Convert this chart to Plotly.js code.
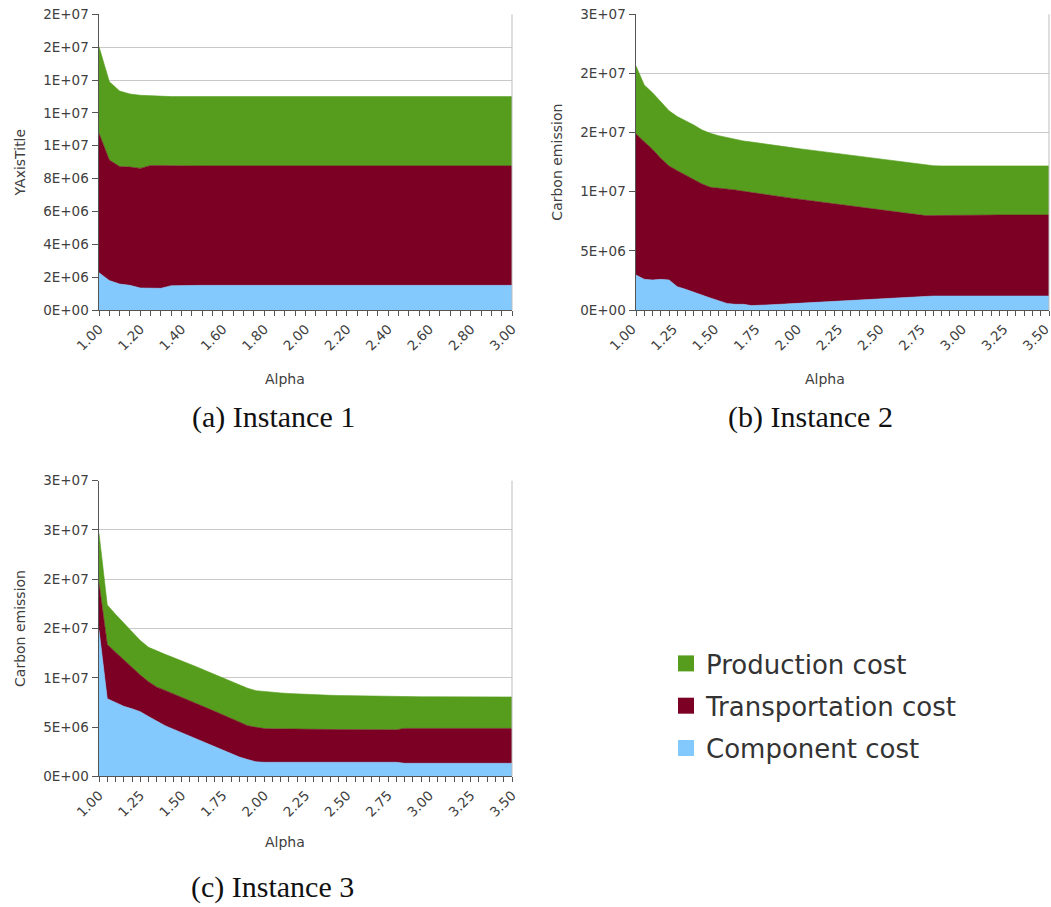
<!DOCTYPE html>
<html>
<head>
<meta charset="utf-8">
<script src="https://cdn.plot.ly/plotly-3.0.1.min.js"></script>
<style>
  html, body { margin: 0; padding: 0; background: #ffffff; }
  #chart { width: 1051px; height: 907px; }
</style>
</head>
<body>
<div id="chart"></div>
<script>
// ---------------- DATA ----------------
const seriesNames = ["Component cost", "Transportation cost", "Production cost"];
const legendOrder = ["Production cost", "Transportation cost", "Component cost"];
const seriesColors = ["#83c9fe", "#7b0024", "#569d1e"];

// Instance 1 (alpha 1.00 .. 3.00, step 0.05)
const alpha1 = [1.00,1.05,1.10,1.15,1.20,1.25,1.30,1.35,1.40,1.45,1.50,1.55,1.60,1.65,1.70,1.75,1.80,1.85,1.90,1.95,
  2.00,2.05,2.10,2.15,2.20,2.25,2.30,2.35,2.40,2.45,2.50,2.55,2.60,2.65,2.70,2.75,2.80,2.85,2.90,2.95,3.00];
const component1 = [2.27e6,1.79e6,1.58e6,1.50e6,1.34e6,1.34e6,1.32e6,1.48e6,1.50e6,1.50e6,1.50e6,1.50e6,1.50e6,1.50e6,
  1.50e6,1.50e6,1.50e6,1.50e6,1.50e6,1.50e6,1.50e6,1.50e6,1.50e6,1.50e6,1.50e6,1.50e6,1.50e6,1.50e6,1.50e6,1.50e6,
  1.50e6,1.50e6,1.50e6,1.50e6,1.50e6,1.50e6,1.50e6,1.50e6,1.50e6,1.50e6,1.50e6];
const transport1 = [8.48e6,7.34e6,7.15e6,7.20e6,7.28e6,7.45e6,7.47e6,7.29e6,7.27e6,7.27e6,7.27e6,7.27e6,7.27e6,7.27e6,
  7.27e6,7.27e6,7.27e6,7.27e6,7.27e6,7.27e6,7.27e6,7.27e6,7.27e6,7.27e6,7.27e6,7.27e6,7.27e6,7.27e6,7.27e6,7.27e6,
  7.27e6,7.27e6,7.27e6,7.27e6,7.27e6,7.27e6,7.27e6,7.27e6,7.27e6,7.27e6,7.27e6];
const production1 = [5.28e6,4.77e6,4.60e6,4.45e6,4.45e6,4.24e6,4.22e6,4.22e6,4.22e6,4.22e6,4.22e6,4.22e6,4.22e6,4.22e6,
  4.22e6,4.22e6,4.22e6,4.22e6,4.22e6,4.22e6,4.22e6,4.22e6,4.22e6,4.22e6,4.22e6,4.22e6,4.22e6,4.22e6,4.22e6,4.22e6,
  4.22e6,4.22e6,4.22e6,4.22e6,4.22e6,4.22e6,4.22e6,4.22e6,4.22e6,4.22e6,4.22e6];

// Instance 2 (alpha 1.00 .. 3.50, step 0.05)
const alpha2 = [1.00,1.05,1.10,1.15,1.20,1.25,1.30,1.35,1.40,1.45,1.50,1.55,1.60,1.65,1.70,1.75,1.80,1.85,1.90,1.95,
  2.00,2.05,2.10,2.15,2.20,2.25,2.30,2.35,2.40,2.45,2.50,2.55,2.60,2.65,2.70,2.75,2.80,2.85,2.90,2.95,
  3.00,3.05,3.10,3.15,3.20,3.25,3.30,3.35,3.40,3.45,3.50];
const component2 = [2.96e6,2.59e6,2.54e6,2.59e6,2.54e6,1.97e6,1.75e6,1.49e6,1.27e6,1.01e6,0.79e6,0.56e6,0.48e6,0.48e6,
  0.37e6,0.39e6,0.42e6,0.46e6,0.50e6,0.54e6,0.58e6,0.62e6,0.66e6,0.70e6,0.74e6,0.78e6,0.82e6,0.86e6,0.90e6,0.94e6,
  0.98e6,1.02e6,1.06e6,1.10e6,1.14e6,1.18e6,1.18e6,1.18e6,1.18e6,1.18e6,1.18e6,1.18e6,1.18e6,1.18e6,1.18e6,1.18e6,
  1.18e6,1.18e6,1.18e6,1.18e6,1.18e6];
const transport2 = [11.92e6,11.64e6,11.04e6,10.23e6,9.63e6,9.81e6,9.66e6,9.50e6,9.38e6,9.36e6,9.52e6,9.67e6,9.67e6,
  9.55e6,9.55e6,9.42e6,9.30e6,9.15e6,9.02e6,8.89e6,8.76e6,8.63e6,8.50e6,8.37e6,8.24e6,8.11e6,7.98e6,7.85e6,7.71e6,
  7.58e6,7.45e6,7.32e6,7.19e6,7.06e6,6.93e6,6.80e6,6.80e6,6.81e6,6.85e6,6.85e6,6.85e6,6.85e6,6.85e6,6.85e6,6.85e6,
  6.85e6,6.85e6,6.85e6,6.85e6,6.85e6,6.85e6];
const production2 = [5.75e6,4.79e6,4.79e6,4.79e6,4.68e6,4.57e6,4.60e6,4.65e6,4.57e6,4.57e6,4.43e6,4.34e6,4.28e6,4.26e6,
  4.28e6,4.28e6,4.26e6,4.28e6,4.28e6,4.28e6,4.28e6,4.28e6,4.28e6,4.28e6,4.28e6,4.28e6,4.28e6,4.28e6,4.28e6,4.28e6,
  4.28e6,4.28e6,4.28e6,4.28e6,4.28e6,4.28e6,4.22e6,4.19e6,4.15e6,4.15e6,4.15e6,4.15e6,4.15e6,4.15e6,4.15e6,4.15e6,
  4.15e6,4.15e6,4.15e6,4.15e6,4.15e6];

// Instance 3 (alpha 1.00 .. 3.50, step 0.05)
const alpha3 = [1.00,1.05,1.10,1.15,1.20,1.25,1.30,1.35,1.40,1.45,1.50,1.55,1.60,1.65,1.70,1.75,1.80,1.85,1.90,1.95,
  2.00,2.05,2.10,2.15,2.20,2.25,2.30,2.35,2.40,2.45,2.50,2.55,2.60,2.65,2.70,2.75,2.80,2.85,2.90,2.95,
  3.00,3.05,3.10,3.15,3.20,3.25,3.30,3.35,3.40,3.45,3.50];
const component3 = [14.85e6,7.88e6,7.50e6,7.10e6,6.85e6,6.56e6,6.06e6,5.60e6,5.14e6,4.78e6,4.43e6,4.07e6,3.72e6,3.35e6,
  2.99e6,2.64e6,2.30e6,1.95e6,1.70e6,1.47e6,1.42e6,1.42e6,1.42e6,1.42e6,1.42e6,1.42e6,1.42e6,1.42e6,1.42e6,1.42e6,
  1.42e6,1.42e6,1.42e6,1.42e6,1.42e6,1.42e6,1.42e6,1.32e6,1.32e6,1.32e6,1.32e6,1.32e6,1.32e6,1.32e6,1.32e6,1.32e6,
  1.32e6,1.32e6,1.32e6,1.32e6,1.32e6];
const transport3 = [4.74e6,5.50e6,5.10e6,4.70e6,4.20e6,3.72e6,3.54e6,3.45e6,3.58e6,3.57e6,3.56e6,3.58e6,3.58e6,3.60e6,
  3.61e6,3.61e6,3.60e6,3.60e6,3.44e6,3.50e6,3.42e6,3.40e6,3.38e6,3.37e6,3.36e6,3.35e6,3.34e6,3.33e6,3.33e6,3.32e6,
  3.32e6,3.31e6,3.31e6,3.30e6,3.30e6,3.30e6,3.30e6,3.54e6,3.54e6,3.54e6,3.54e6,3.54e6,3.54e6,3.54e6,3.54e6,3.54e6,
  3.54e6,3.54e6,3.54e6,3.54e6,3.54e6];
const production3 = [5.07e6,4.01e6,3.84e6,3.73e6,3.53e6,3.49e6,3.49e6,3.65e6,3.66e6,3.70e6,3.75e6,3.75e6,3.75e6,3.74e6,
  3.75e6,3.75e6,3.76e6,3.75e6,3.79e6,3.72e6,3.75e6,3.70e6,3.66e6,3.61e6,3.57e6,3.55e6,3.52e6,3.50e6,3.47e6,3.46e6,
  3.44e6,3.43e6,3.42e6,3.41e6,3.39e6,3.38e6,3.36e6,3.22e6,3.22e6,3.21e6,3.21e6,3.21e6,3.20e6,3.20e6,3.20e6,3.20e6,
  3.19e6,3.19e6,3.19e6,3.19e6,3.19e6];

// Tick values and labels
const yTickVals1 = [0,2e6,4e6,6e6,8e6,1e7,1.2e7,1.4e7,1.6e7,1.8e7];
const yTickText1 = ["0E+00","2E+06","4E+06","6E+06","8E+06","1E+07","1E+07","1E+07","2E+07","2E+07"];
const yTickVals2 = [0,5e6,1e7,1.5e7,2e7,2.5e7];
const yTickText2 = ["0E+00","5E+06","1E+07","2E+07","2E+07","3E+07"];
const yTickVals3 = [0,5e6,1e7,1.5e7,2e7,2.5e7,3e7];
const yTickText3 = ["0E+00","5E+06","1E+07","2E+07","2E+07","3E+07","3E+07"];

const yTitles = ["YAxisTitle", "Carbon emission", "Carbon emission"];
const xTitle = "Alpha";
const captions = ["(a) Instance 1", "(b) Instance 2", "(c) Instance 3"];

// ---------------- BUILD ----------------
const W = 1051, H = 907;
const px = v => v / W;
const py = v => 1 - v / H;

const SANS = "DejaVu Sans, sans-serif";
const TXT = "#404040";

const panels = [
  {x: alpha1, ys: [component1, transport1, production1], xa: "x", ya: "y"},
  {x: alpha2, ys: [component2, transport2, production2], xa: "x2", ya: "y2"},
  {x: alpha3, ys: [component3, transport3, production3], xa: "x3", ya: "y3"}
];

const traces = [];
panels.forEach((p, pi) => {
  p.ys.forEach((vals, si) => {
    traces.push({
      type: "scatter", x: p.x, y: vals, xaxis: p.xa, yaxis: p.ya,
      stackgroup: "g" + pi, mode: "lines",
      line: {width: 0.6, color: seriesColors[si]},
      fillcolor: seriesColors[si],
      name: seriesNames[si], showlegend: false, hoverinfo: "x+y+name"
    });
  });
});
// legend entries
legendOrder.forEach(name => {
  const si = seriesNames.indexOf(name);
  traces.push({
    type: "scatter", x: [null], y: [null], xaxis: "x", yaxis: "y",
    mode: "markers", marker: {symbol: "square", size: 16, color: seriesColors[si]},
    name: name, showlegend: true, legendgroup: name
  });
});

function xAxis(domain, range, dtick, anchor, shift) {
  return {
    domain: domain, range: range, anchor: anchor,
    tick0: 1, dtick: dtick, tickformat: ".2f", tickangle: -45,
    ticks: "outside", ticklen: 5, tickwidth: 1, tickcolor: "#555",
    minor: {dtick: 0.05, tick0: 1, ticks: "outside", ticklen: 5, tickwidth: 1, tickcolor: "#555", showgrid: false},
    showline: true, linecolor: "#555", linewidth: 1,
    showgrid: false, zeroline: false, ticklabeloverflow: "allow", ticklabelshift: shift,
    tickfont: {family: SANS, size: 13.5, color: TXT}
  };
}
function yAxis(domain, range, vals, text, title, anchor) {
  return {
    domain: domain, range: range, anchor: anchor,
    tickmode: "array", tickvals: vals, ticktext: text,
    ticks: "outside", ticklen: 6, tickwidth: 1, tickcolor: "#555",
    showline: true, linecolor: "#555", linewidth: 1.5,
    showgrid: true, gridcolor: "#c9c9c9", gridwidth: 1, zeroline: false,
    tickfont: {family: SANS, size: 13.5, color: TXT},
    title: {text: title, font: {family: SANS, size: 14, color: TXT}, standoff: 14}
  };
}

const xdomL = [px(99), px(512)];
const xdomR = [px(636), px(1049)];
const ydomT = [py(310), py(14.3)];
const ydomB = [py(776.3), py(480.7)];

function note(text, x, y, font) {
  return {text: text, xref: "paper", yref: "paper", x: px(x), y: py(y),
    xanchor: "center", yanchor: "middle", showarrow: false, font: font};
}
const titleFont = {family: SANS, size: 14, color: TXT};
const capFont = {family: "Liberation Serif, serif", size: 30, color: "#111"};

const layout = {
  width: W, height: H,
  margin: {l: 0, r: 0, t: 0, b: 0, pad: 0},
  paper_bgcolor: "#ffffff", plot_bgcolor: "#ffffff",
  showlegend: true,
  legend: {
    x: px(666), y: py(640), xanchor: "left", yanchor: "top",
    font: {family: SANS, size: 26, color: "#333333"},
    traceorder: "grouped", tracegroupgap: 5.5,
    bgcolor: "rgba(0,0,0,0)", borderwidth: 0
  },
  xaxis: xAxis(xdomL, [1, 3], 0.2, "y", 0),
  yaxis: yAxis(ydomT, [0, 1.8e7], yTickVals1, yTickText1, yTitles[0], "x"),
  xaxis2: xAxis(xdomR, [1, 3.5], 0.25, "y2", -4),
  yaxis2: yAxis(ydomT, [0, 2.5e7], yTickVals2, yTickText2, yTitles[1], "x2"),
  xaxis3: xAxis(xdomL, [1, 3.5], 0.25, "y3", 0),
  yaxis3: yAxis(ydomB, [0, 3e7], yTickVals3, yTickText3, yTitles[2], "x3"),
  shapes: [
    {type: "line", xref: "x domain", yref: "y domain", x0: 1, x1: 1, y0: 0, y1: 1, line: {color: "#bdbdbd", width: 1}},
    {type: "line", xref: "x2 domain", yref: "y2 domain", x0: 1, x1: 1, y0: 0, y1: 1, line: {color: "#bdbdbd", width: 1}},
    {type: "line", xref: "x3 domain", yref: "y3 domain", x0: 1, x1: 1, y0: 0, y1: 1, line: {color: "#bdbdbd", width: 1}}
  ],
  annotations: [
    note(xTitle, 285, 379, titleFont),
    note(xTitle, 825, 379, titleFont),
    note(xTitle, 285, 842, titleFont),
    note(captions[0], 273, 417, capFont),
    note(captions[1], 810, 417, capFont),
    note(captions[2], 272, 887, capFont)
  ]
};

Plotly.newPlot("chart", traces, layout, {displayModeBar: false, staticPlot: true});
</script>
</body>
</html>
